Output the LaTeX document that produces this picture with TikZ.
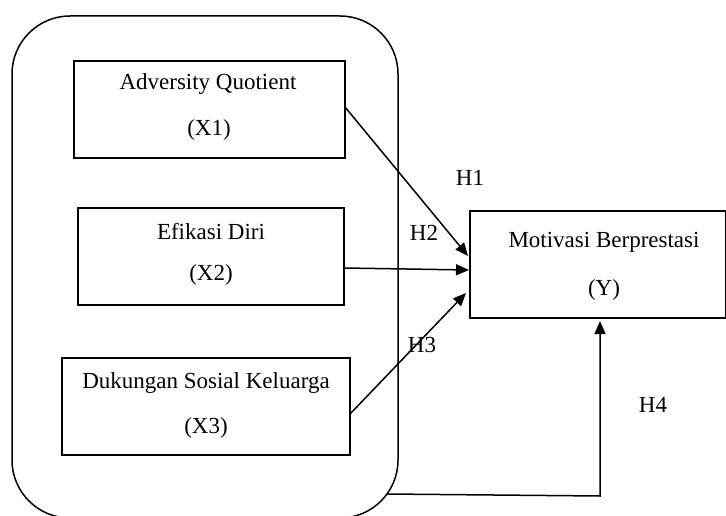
\documentclass[tikz,border=0pt]{standalone}
\usepackage{fontspec}
\setmainfont{Liberation Serif}
\usetikzlibrary{arrows.meta}
\begin{document}
\begin{tikzpicture}[x=1pt,y=-1pt,
  box/.style={draw,line width=1.5pt,rectangle,inner sep=0pt},
  lbl/.style={font=\fontsize{23}{26}\selectfont,inner sep=0pt},
  arr/.style={line width=1.5pt,-{Triangle[length=13pt,width=11pt]}}]
\useasboundingbox (0,0) rectangle (726,516);
\begin{scope}
\clip (0,0) rectangle (726,516);
\draw[line width=1.5pt,rounded corners=58pt] (12,16) rectangle (398,518);
\end{scope}
\node[box,minimum width=271pt,minimum height=97pt] (x1) at (209.5,109.5) {};
\node[box,minimum width=266pt,minimum height=97pt] (x2) at (211,256.5) {};
\node[box,minimum width=288pt,minimum height=97pt] (x3) at (206,406.5) {};
\node[box,minimum width=256pt,minimum height=107pt] (y) at (598,264.5) {};
\node[lbl] (t1a) at (208,84) {Adversity Quotient};
\node[lbl] (t1b) at (209,130) {(X1)};
\node[lbl] (t2a) at (211,232) {Efikasi Diri};
\node[lbl] (t2b) at (211,275) {(X2)};
\node[lbl] (t3a) at (206,383) {Dukungan Sosial Keluarga};
\node[lbl] (t3b) at (206,428) {(X3)};
\node[lbl] (tya) at (604,242) {Motivasi Berprestasi};
\node[lbl] (tyb) at (604,290) {(Y)};
\node[lbl] (h1) at (470,178) {H1};
\node[lbl] (h2) at (424,233) {H2};
\node[lbl] (h3) at (422,345) {H3};
\node[lbl] (h4) at (653,405) {H4};
\coordinate (s1) at (345,107);
\coordinate (e1) at (468,256);
\coordinate (s2) at (344,268);
\coordinate (e2) at (469,270);
\coordinate (s3) at (350,414);
\coordinate (e3) at (466,293);
\coordinate (s4) at (387,494);
\coordinate (c4) at (600,496);
\coordinate (e4) at (600,321);
\draw[arr] (s1) -- (e1);
\draw[arr] (s2) -- (e2);
\draw[arr] (s3) -- (e3);
\draw[arr] (s4) -- (c4) -- (e4);
\end{tikzpicture}
\end{document}
